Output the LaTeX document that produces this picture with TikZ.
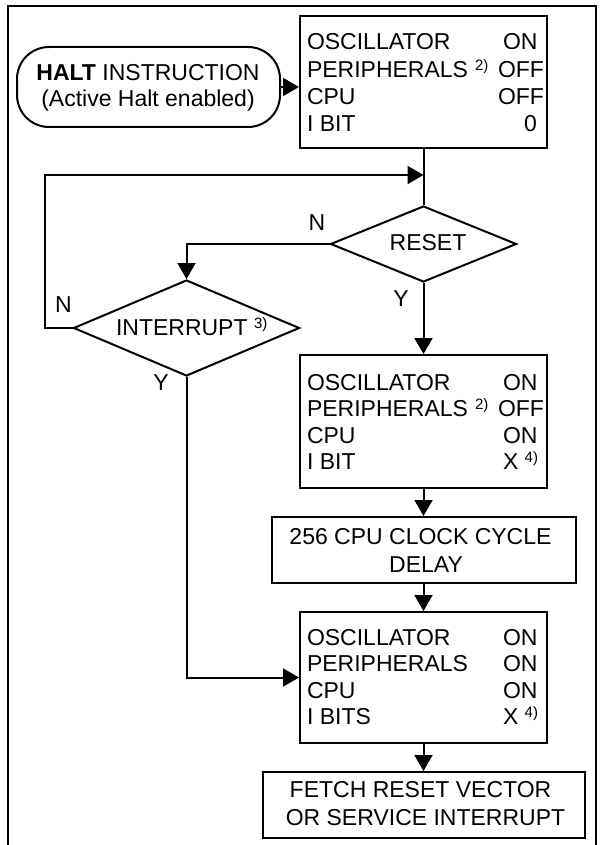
\documentclass[tikz,border=0pt]{standalone}
\usepackage{fontspec}
\setmainfont{Liberation Sans}
\usetikzlibrary{arrows.meta,shapes.geometric}
\newcommand\supx[1]{\raisebox{7pt}{\fontsize{15}{15}\selectfont #1}}
\begin{document}
\begin{tikzpicture}[x=1pt,y=-1pt,line width=2pt,
  arr/.style={-{Triangle[length=16pt,width=18pt]}},
  boxnode/.style={draw,rectangle,inner sep=0pt,minimum width=#1},
  dia/.style={draw,diamond,inner sep=0pt},
  txt/.style={inner sep=0pt,font=\fontsize{23}{27}\selectfont,anchor=base west},
  ctxt/.style={inner sep=0pt,font=\fontsize{23}{27}\selectfont,anchor=base}]
\useasboundingbox (0,0) rectangle (604,845);
% frame
\draw (8,845) -- (8,6) -- (596,6) -- (596,845);
% shapes
\node[draw,rounded corners=32pt,inner sep=0pt,minimum width=263pt,minimum height=80pt] (term) at (148.5,87) {};
\node[boxnode=247pt,minimum height=132pt] (top) at (423.5,82) {};
\node[dia,minimum width=186pt,minimum height=76pt] (reset) at (423.5,244) {};
\node[dia,minimum width=226pt,minimum height=96pt] (intr) at (186.5,328) {};
\node[boxnode=247pt,minimum height=133pt] (box2) at (423.5,421.5) {};
\node[boxnode=304pt,minimum height=66pt] (delay) at (423.5,550) {};
\node[boxnode=247pt,minimum height=131pt] (box4) at (423.5,677.5) {};
\node[boxnode=322pt,minimum height=66pt] (fetch) at (423.5,805) {};
\coordinate (join) at (423.5,175);
% terminator text
\node[ctxt] (t1) at (148,80.5) {\textbf{HALT} INSTRUCTION};
\node[ctxt] (t2) at (148,107) {(Active Halt enabled)};
% top box text
\node[txt] (a1) at (306,50) {OSCILLATOR};
\node[txt] (a2) at (306,77.5) {PERIPHERALS\hspace{7pt}\supx{2)}};
\node[txt] (a3) at (306,104.5) {CPU};
\node[txt] (a4) at (306,132) {I BIT};
\node[txt] (av1) at (502,50) {ON};
\node[txt] (av2) at (497,77.5) {OFF};
\node[txt] (av3) at (497,104.5) {OFF};
\node[txt] (av4) at (523,132) {0};
% decisions text
\node[ctxt] (rt) at (428,250) {RESET};
\node[txt] (it) at (115,335.5) {INTERRUPT \supx{3)}};
\node[ctxt] (n1) at (317,230) {N};
\node[ctxt] (y1) at (401,306) {Y};
\node[ctxt] (n2) at (63.5,312.5) {N};
\node[ctxt] (y2) at (161,390.5) {Y};
% box2 text
\node[txt] (b1) at (306,390) {OSCILLATOR};
\node[txt] (b2) at (306,416.5) {PERIPHERALS\hspace{7pt}\supx{2)}};
\node[txt] (b3) at (306,443) {CPU};
\node[txt] (b4) at (306,469.5) {I BIT};
\node[txt] (bv1) at (502,390) {ON};
\node[txt] (bv2) at (497,416.5) {OFF};
\node[txt] (bv3) at (502,443) {ON};
\node[txt] (bv4) at (502,469.5) {X \supx{4)}};
% delay text
\node[ctxt] (d1) at (420.5,544) {256 CPU CLOCK CYCLE};
\node[ctxt] (d2) at (426,572) {DELAY};
% box4 text
\node[txt] (c1) at (306,645) {OSCILLATOR};
\node[txt] (c2) at (306,671.5) {PERIPHERALS};
\node[txt] (c3) at (306,698) {CPU};
\node[txt] (c4) at (306,724.5) {I BITS};
\node[txt] (cv1) at (502,645) {ON};
\node[txt] (cv2) at (502,671.5) {ON};
\node[txt] (cv3) at (502,698) {ON};
\node[txt] (cv4) at (502,724.5) {X \supx{4)}};
% fetch text
\node[ctxt] (f1) at (420.5,797.5) {FETCH RESET VECTOR};
\node[ctxt] (f2) at (425.5,825.5) {OR SERVICE INTERRUPT};
% connectors
\draw[arr] (term.east) -- (term.east -| top.west);
\draw (top.south) -- (reset.north);
\draw[arr] (intr.west) -| (45,175) -- (join);
\draw[arr] (reset.west) -| (intr.north);
\draw[arr] (reset.south) -- (box2.north);
\draw[arr] (intr.south) |- (box4.west);
\draw[arr] (box2.south) -- (delay.north);
\draw[arr] (delay.south) -- (box4.north);
\draw[arr] (box4.south) -- (fetch.north);
\end{tikzpicture}
\end{document}
